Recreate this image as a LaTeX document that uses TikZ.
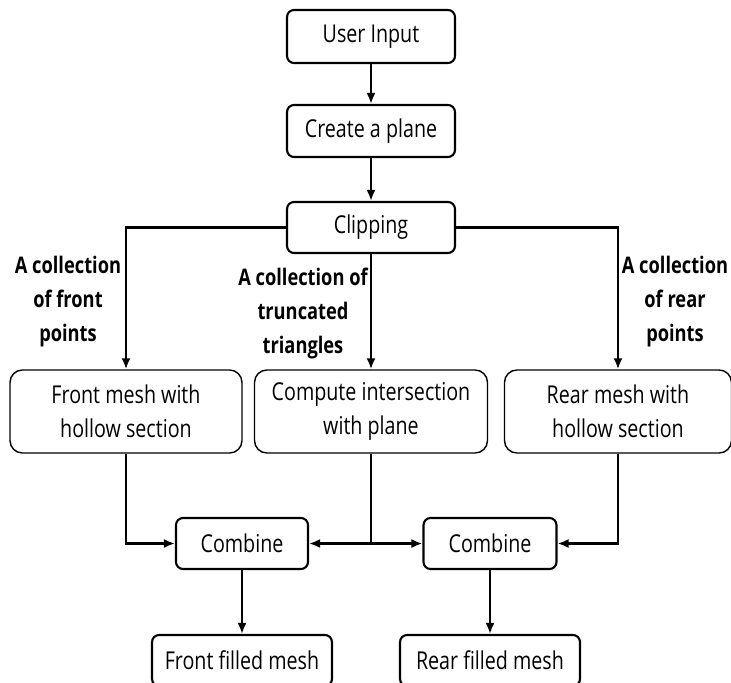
\documentclass[tikz,border=0pt]{standalone}
\usepackage{fontspec}
\setmainfont{Open Sans}[FakeStretch=0.8]
\usetikzlibrary{arrows.meta}
\begin{document}
\begin{tikzpicture}[x=0.02cm,y=-0.02cm,
    box/.style={draw,rounded corners=4pt,line width=1.2pt,inner sep=0pt,
      font=\fontsize{14}{19.4}\selectfont,align=center},
    wide/.style={box,rounded corners=7pt,line width=0.8pt},
    note/.style={font=\bfseries\fontsize{13}{19.4}\selectfont,align=center,inner sep=0pt},
    link/.style={line width=1.7pt,-{Latex[length=2.2mm,width=1.8mm]}}]
      \useasboundingbox (0,0) rectangle (731,683);
      \draw
        (371,36.5) node[box,minimum width=3.36cm,minimum height=1.06cm] (input){User Input}
        (371,131) node[box,minimum width=3.36cm,minimum height=1.04cm] (plane){Create a plane}
        (371,227.5) node[box,minimum width=3.36cm,minimum height=1.02cm] (clip){Clipping}
        (126,411.5) node[wide,minimum width=4.64cm,minimum height=1.66cm] (front){Front mesh with\\hollow section}
        (371,411.5) node[wide,minimum width=4.66cm,minimum height=1.66cm] (compute){Compute intersection\\with plane}
        (618,411.5) node[wide,minimum width=4.54cm,minimum height=1.66cm] (rear){Rear mesh with\\hollow section}
        (242,543.5) node[box,minimum width=2.64cm,minimum height=1.02cm] (comb1){Combine}
        (490,543.5) node[box,minimum width=2.66cm,minimum height=1.02cm] (comb2){Combine}
        (242,660.5) node[box,minimum width=3.6cm,minimum height=1.02cm] (ffill){Front filled mesh}
        (490,660.5) node[box,minimum width=3.6cm,minimum height=1.02cm] (rfill){Rear filled mesh}
        (68,301.5) node[note] (frontpts){A collection\\of front\\points}
        (303,313.5) node[note] (cutpts){A collection of\\truncated\\triangles}
        (675,301.5) node[note] (rearpts){A collection\\of rear\\points};
      \begin{scope}[link]
        \draw (input) to (plane);
        \draw (plane) to (clip);
        \draw (clip.west) -| (front.north);
        \draw (clip) to (compute);
        \draw (clip.east) -| (rear.north);
        \draw (front) |- (comb1);
        \draw (compute) |- (comb1);
        \draw (compute) |- (comb2);
        \draw (rear) |- (comb2);
        \draw (comb1) to (ffill);
        \draw (comb2) to (rfill);
      \end{scope}
    \end{tikzpicture}
\end{document}
